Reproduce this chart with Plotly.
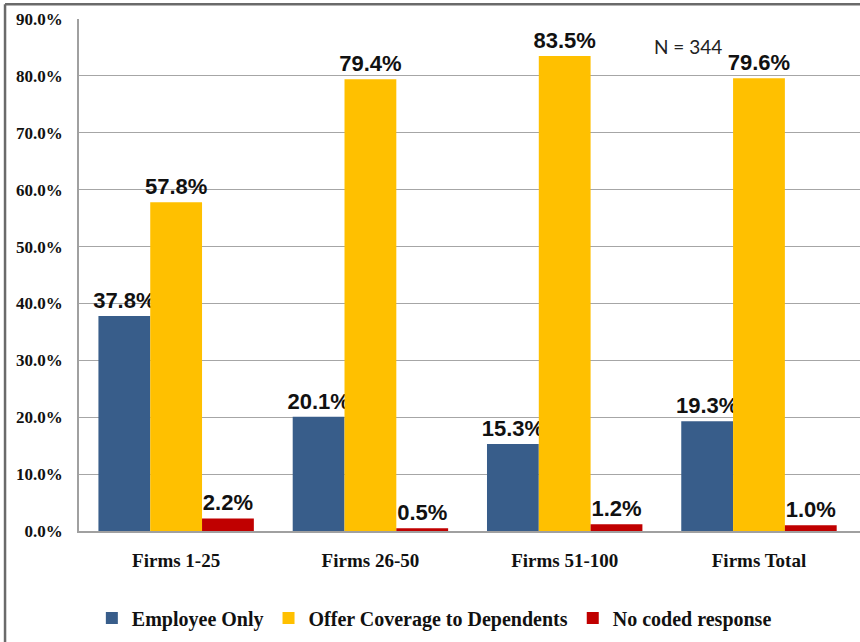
import plotly.graph_objects as go

categories = ["Firms 1-25", "Firms 26-50", "Firms 51-100", "Firms Total"]
employee_only = [37.8, 20.1, 15.3, 19.3]
dependents = [57.8, 79.4, 83.5, 79.6]
no_response = [2.2, 0.5, 1.2, 1.0]
y_ticks = [0, 10, 20, 30, 40, 50, 60, 70, 80, 90]

series = [
    ("Employee Only", employee_only, "#385D8A"),
    ("Offer Coverage to Dependents", dependents, "#FFC000"),
    ("No coded response", no_response, "#C00000"),
]

fig = go.Figure()
for name, vals, col in series:
    fig.add_trace(go.Bar(
        x=categories, y=vals, name=name,
        marker=dict(color=col, line=dict(width=0)),
        text=["%.1f%%" % v for v in vals],
        textposition="outside", cliponaxis=False,
        textfont=dict(family="Liberation Sans", size=22, color="#111111", weight="bold"),
    ))

fig.add_annotation(x=0.78, y=0.947, xref="paper", yref="paper", text="N = 344",
                   showarrow=False, xanchor="center", yanchor="middle",
                   font=dict(family="Lato", size=19, color="#222222"))

# outer frame (left and top edges)
fig.add_shape(type="line", xref="paper", yref="paper", x0=-0.0947, x1=1.05, y0=1.029, y1=1.029,
              line=dict(color="#6a6a6a", width=2.5))
fig.add_shape(type="line", xref="paper", yref="paper", x0=-0.0947, x1=-0.0947, y0=1.029, y1=-0.3,
              line=dict(color="#6a6a6a", width=2.5))

fig.update_layout(
    width=860, height=642,
    margin=dict(l=79, r=0, t=19, b=111, autoexpand=False),
    paper_bgcolor="white", plot_bgcolor="white",
    barmode="group", bargap=0.2, bargroupgap=0,
    uniformtext=dict(mode="show", minsize=22),
    legend=dict(orientation="h", x=0.455, xanchor="center", y=-0.17, yanchor="middle",
                font=dict(family="Liberation Serif", size=20, color="#111111", weight="bold"),
                itemwidth=30, tracegroupgap=0),
    showlegend=True,
)
fig.update_xaxes(showline=True, linecolor="#a0a0a0", linewidth=1.5, ticks="", automargin=False,
                 tickfont=dict(family="Liberation Serif", size=19, color="#111111", weight="bold"),
                 ticklabelstandoff=11, range=[-0.5, 3.52])
fig.update_yaxes(range=[0, 90], tickvals=y_ticks, ticktext=["%.1f%%" % v for v in y_ticks],
                 showgrid=True, gridcolor="#a6a6a6", gridwidth=1, automargin=False,
                 showline=True, linecolor="#a0a0a0", linewidth=1.5, zeroline=False,
                 tickfont=dict(family="Liberation Serif", size=17, color="#111111", weight="bold"),
                 ticklabelstandoff=11)

fig.write_html("out.html", config={"displayModeBar": False},
               post_script="document.body.style.margin='0';document.body.style.overflow='hidden';")
